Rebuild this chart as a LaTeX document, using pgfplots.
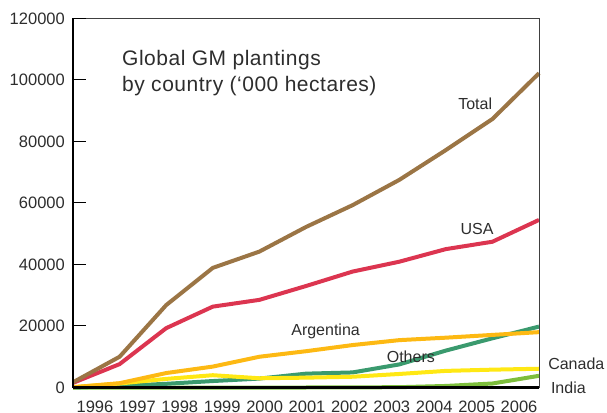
\documentclass[border=0pt]{standalone}
\usepackage{pgfplots}
\pgfplotsset{compat=1.18}
\usepackage{fontspec}
\setmainfont{Liberation Sans}

\definecolor{txt}{RGB}{45,45,45}
\definecolor{cTotal}{RGB}{155,117,69}
\definecolor{cUSA}{RGB}{220,53,80}
\definecolor{cArg}{RGB}{253,185,19}
\definecolor{cOth}{RGB}{58,154,110}
\definecolor{cCan}{RGB}{255,232,20}
\definecolor{cInd}{RGB}{125,190,60}

\begin{document}
\begin{tikzpicture}[x=1pt,y=1pt]
\useasboundingbox (0,0) rectangle (607,412);
\clip (0,0) rectangle (607,412);
\begin{axis}[
  at={(73pt,24.5pt)}, anchor=south west,
  scale only axis, width=466pt, height=369pt,
  xmin=1996, xmax=2006, ymin=0, ymax=120000,
  clip=false, axis on top,
  axis x line*=bottom, axis y line*=left,
  x axis line style={line width=2.6pt, black, -},
  y axis line style={line width=1.3pt, black, -},
  tick align=inside,
  ytick={0,20000,...,120000},
  major tick length=12.7pt,
  ytick style={line width=1pt, black},
  xtick={1996.472,1997.382,1998.292,1999.202,2000.112,2001.022,2001.931,2002.841,2003.751,2004.661,2005.571},
  xticklabels={1996,1997,1998,1999,2000,2001,2002,2003,2004,2005,2006},
  xtick style={draw=none},
  minor xtick={1996.901,1997.811,1998.721,1999.631,2000.541,2001.451,2002.361,2003.271,2004.181,2005.091},
  minor tick length=10pt,
  minor x tick style={line width=1pt, black},
  scaled y ticks=false,
  /pgf/number format/assume math mode=true,
  yticklabel={\pgfmathprintnumber[fixed,precision=0,1000 sep={}]{\tick}},
  ticklabel style={font=\fontsize{16.5}{18}\selectfont, text=txt, inner sep=0pt},
  yticklabel style={anchor=east, xshift=-8pt},
  xticklabel style={anchor=north, yshift=-13.5pt},
  every axis plot/.append style={line width=4pt, line join=round, mark=none},
]
\addplot[cInd] coordinates {(1996,0) (1997,0) (1998,0) (1999,0) (2000,0) (2001,0) (2002,50) (2003,100) (2004,500) (2005,1300) (2006,3800)};
\addplot[cOth] coordinates {(1996,0) (1997,500) (1998,1200) (1999,2100) (2000,2900) (2001,4500) (2002,4900) (2003,7500) (2004,12000) (2005,16000) (2006,19800)};
\addplot[cCan] coordinates {(1996,100) (1997,1300) (1998,2800) (1999,4000) (2000,3000) (2001,3200) (2002,3500) (2003,4400) (2004,5400) (2005,5800) (2006,6100)};
\addplot[cArg] coordinates {(1996,100) (1997,1400) (1998,4700) (1999,6800) (2000,10000) (2001,11800) (2002,13800) (2003,15400) (2004,16200) (2005,17100) (2006,18000)};
\addplot[cUSA] coordinates {(1996,1500) (1997,7600) (1998,19300) (1999,26300) (2000,28500) (2001,33000) (2002,37700) (2003,40900) (2004,45000) (2005,47400) (2006,54500)};
\addplot[cTotal] coordinates {(1996,1700) (1997,10000) (1998,26800) (1999,38900) (2000,44200) (2001,52200) (2002,59300) (2003,67500) (2004,77200) (2005,87300) (2006,102200)};

\draw[black!75, line width=0.8pt] (rel axis cs:0,1) -- (rel axis cs:1,1) -- (rel axis cs:1,0);

\begin{scope}[every node/.style={text=txt, font=\fontsize{16}{18}\selectfont, inner sep=0pt}]
\node at (axis cs:2004.63,92200) {Total};
\node at (axis cs:2004.67,51550) {USA};
\node at (axis cs:2001.42,18370) {Argentina};
\node at (axis cs:2003.25,9900) {Others};
\node at (axis cs:2006.80,7640) {Canada};
\node at (axis cs:2006.63,0) {India};
\end{scope}
\end{axis}
\node[anchor=base west, inner sep=0pt, text=txt, align=left,
  font=\fontsize{21}{26}\selectfont\addfontfeature{LetterSpace=2.5}]
  at (122,320) {Global GM plantings\\by country (‘000 hectares)};
\end{tikzpicture}
\end{document}
